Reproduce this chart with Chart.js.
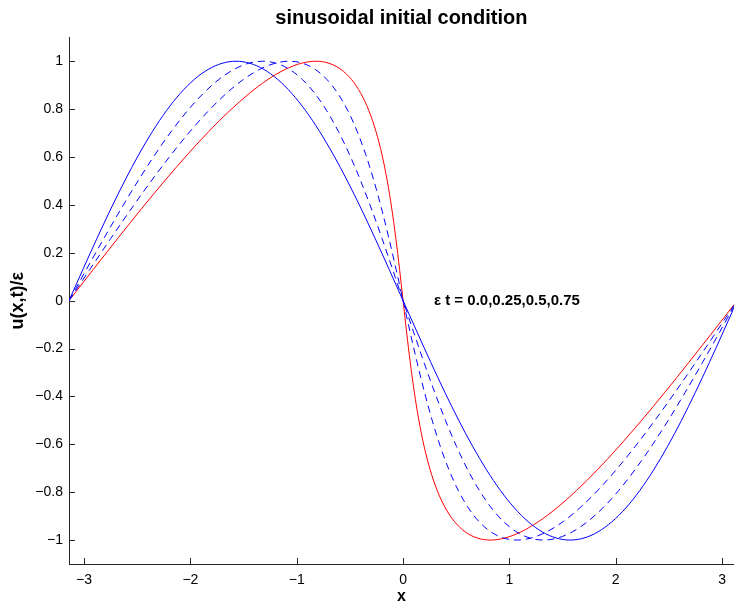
<!DOCTYPE html>
<html>
<head>
<meta charset="utf-8">
<title>sinusoidal initial condition</title>
<script src="https://cdn.jsdelivr.net/npm/chart.js@4.4.1/dist/chart.umd.min.js"></script>
<style>
	html, body { margin: 0; padding: 0; background: #fff; overflow: hidden; }
</style>
</head>
<body>
<canvas id="burgersChart" width="734" height="605"></canvas>
<script>
// values: u/eps along the curves, one x list per time
var uValues = [0, 0.1305, 0.2588, 0.3827, 0.5, 0.6088, 0.7071, 0.7934, 0.8660, 0.9239, 0.9659, 0.9914, 1,
	0.9914, 0.9659, 0.9239, 0.8660, 0.7934, 0.7071, 0.6088, 0.5, 0.3827, 0.2588, 0.1305, 0,
	-0.1305, -0.2588, -0.3827, -0.5, -0.6088, -0.7071, -0.7934, -0.8660, -0.9239, -0.9659, -0.9914, -1,
	-0.9914, -0.9659, -0.9239, -0.8660, -0.7934, -0.7071, -0.6088, -0.5, -0.3827, -0.2588, -0.1305, 0];

var xT0 = [-3.1416, -3.0107, -2.8798, -2.7489, -2.6180, -2.4871, -2.3562, -2.2253, -2.0944, -1.9635, -1.8326, -1.7017, -1.5708,
	-1.4399, -1.3090, -1.1781, -1.0472, -0.9163, -0.7854, -0.6545, -0.5236, -0.3927, -0.2618, -0.1309, 0,
	0.1309, 0.2618, 0.3927, 0.5236, 0.6545, 0.7854, 0.9163, 1.0472, 1.1781, 1.3090, 1.4399, 1.5708,
	1.7017, 1.8326, 1.9635, 2.0944, 2.2253, 2.3562, 2.4871, 2.6180, 2.7489, 2.8798, 3.0107, 3.1416];

var xT025 = [-3.1416, -2.9781, -2.8151, -2.6532, -2.4930, -2.3349, -2.1794, -2.0270, -1.8779, -1.7325, -1.5911, -1.4538, -1.3208,
	-1.1920, -1.0675, -0.9471, -0.8307, -0.7180, -0.6086, -0.5023, -0.3986, -0.2970, -0.1971, -0.0983, 0,
	0.0983, 0.1971, 0.2970, 0.3986, 0.5023, 0.6086, 0.7180, 0.8307, 0.9471, 1.0675, 1.1920, 1.3208,
	1.4538, 1.5911, 1.7325, 1.8779, 2.0270, 2.1794, 2.3349, 2.4930, 2.6532, 2.8151, 2.9781, 3.1416];

var xT05 = [-3.1416, -2.9454, -2.7504, -2.5576, -2.3680, -2.1827, -2.0026, -1.8286, -1.6614, -1.5016, -1.3496, -1.2060, -1.0708,
	-0.9442, -0.8260, -0.7162, -0.6142, -0.5196, -0.4318, -0.3501, -0.2736, -0.2014, -0.1324, -0.0656, 0,
	0.0656, 0.1324, 0.2014, 0.2736, 0.3501, 0.4318, 0.5196, 0.6142, 0.7162, 0.8260, 0.9442, 1.0708,
	1.2060, 1.3496, 1.5016, 1.6614, 1.8286, 2.0026, 2.1827, 2.3680, 2.5576, 2.7504, 2.9454, 3.1416];

var xT075 = [-3.1416, -2.9128, -2.6857, -2.4619, -2.2430, -2.0305, -1.8259, -1.6303, -1.4449, -1.2706, -1.1082, -0.9581, -0.8208,
	-0.6963, -0.5846, -0.4852, -0.3977, -0.3213, -0.2551, -0.1979, -0.1486, -0.1057, -0.0677, -0.0330, 0,
	0.0330, 0.0677, 0.1057, 0.1486, 0.1979, 0.2551, 0.3213, 0.3977, 0.4852, 0.5846, 0.6963, 0.8208,
	0.9581, 1.1082, 1.2706, 1.4449, 1.6303, 1.8259, 2.0305, 2.2430, 2.4619, 2.6857, 2.9128, 3.1416];

var xTicks = [-3, -2, -1, 0, 1, 2, 3];
var yTicks = [-1, -0.8, -0.6, -0.4, -0.2, 0, 0.2, 0.4, 0.6, 0.8, 1];

var titleText = 'sinusoidal initial condition';
var xLabel = 'x';
var yLabel = 'u(x,t)/\u03b5';
var noteText = '\u03b5 t = 0.0,0.25,0.5,0.75';
var noteX = 0.29;
var noteY = 0;

var FONT = '"Liberation Sans", Arial, Helvetica, sans-serif';
var AXIS_COLOR = '#262626';
var TICK_LEN = 6;

function toPoints(xs) {
	var pts = [];
	xs.forEach(function(x, i) {
		pts.push({ x: x, y: uValues[i] });
	});
	return pts;
}

function makeDataset(xs, color, dashed) {
	return {
		data: toPoints(xs),
		borderColor: color,
		borderWidth: 1,
		borderDash: dashed ? [7, 5] : [],
		pointRadius: 0,
		fill: false,
		cubicInterpolationMode: 'monotone'
	};
}

function tickLabel(v) {
	return v < 0 ? '\u2212' + Math.abs(v) : String(v);
}

// matlab style ticks pointing into the axes
var innerTicks = {
	id: 'innerTicks',
	afterDraw: function(chart) {
		var ctx = chart.ctx;
		var area = chart.chartArea;
		var xs = chart.scales.x;
		var ys = chart.scales.y;
		ctx.save();
		ctx.strokeStyle = AXIS_COLOR;
		ctx.lineWidth = 1;
		ctx.beginPath();
		xTicks.forEach(function(v) {
			var px = Math.round(xs.getPixelForValue(v)) + 0.5;
			ctx.moveTo(px, area.bottom);
			ctx.lineTo(px, area.bottom - TICK_LEN);
		});
		yTicks.forEach(function(v) {
			var py = Math.round(ys.getPixelForValue(v)) + 0.5;
			ctx.moveTo(area.left, py);
			ctx.lineTo(area.left + TICK_LEN, py);
		});
		ctx.stroke();
		ctx.restore();
	}
};

var noteLabel = {
	id: 'noteLabel',
	afterDraw: function(chart) {
		var ctx = chart.ctx;
		ctx.save();
		ctx.font = 'bold 15px ' + FONT;
		ctx.fillStyle = '#000';
		ctx.textAlign = 'left';
		ctx.textBaseline = 'middle';
		ctx.fillText(noteText, chart.scales.x.getPixelForValue(noteX), chart.scales.y.getPixelForValue(noteY));
		ctx.restore();
	}
};

var ctx = document.getElementById('burgersChart');
var burgersChart = new Chart(ctx, {
	type: 'line',
	data: {
		datasets: [
			makeDataset(xT0, 'rgb(0,0,255)', false),
			makeDataset(xT025, 'rgb(0,0,255)', true),
			makeDataset(xT05, 'rgb(0,0,255)', true),
			makeDataset(xT075, 'rgb(255,0,0)', false)
		]
	},
	options: {
		responsive: false,
		animation: false,
		layout: { padding: 0 },
		plugins: {
			legend: { display: false },
			tooltip: { enabled: false },
			title: {
				display: true,
				text: titleText,
				fullSize: false,
				color: '#000',
				font: { family: FONT, size: 20, weight: 'bold', lineHeight: 1.15 },
				padding: { top: 7, bottom: 7.3 }
			}
		},
		scales: {
			x: {
				type: 'linear',
				min: -3.1416,
				max: 3.11,
				grid: { display: true, drawOnChartArea: false, drawTicks: false },
				border: { display: true, color: AXIS_COLOR, width: 1 },
				ticks: {
					padding: 8,
					color: '#000',
					autoSkip: false,
					maxRotation: 0,
					font: { family: FONT, size: 14 },
					callback: tickLabel
				},
				afterBuildTicks: function(scale) {
					scale.ticks = xTicks.map(function(v) { return { value: v }; });
				},
				afterFit: function(scale) {
					scale.height = 41;
				},
				title: {
					display: true,
					text: xLabel,
					color: '#000',
					font: { family: FONT, size: 16, weight: 'bold', lineHeight: 1 },
					padding: { top: 0, bottom: 0 }
				}
			},
			y: {
				min: -1.1,
				max: 1.1,
				grid: { display: true, drawOnChartArea: false, drawTicks: false },
				border: { display: true, color: AXIS_COLOR, width: 1 },
				ticks: {
					padding: 6,
					color: '#000',
					autoSkip: false,
					font: { family: FONT, size: 14 },
					callback: tickLabel
				},
				afterBuildTicks: function(scale) {
					scale.ticks = yTicks.map(function(v) { return { value: v }; });
				},
				afterFit: function(scale) {
					scale.width = 69;
				},
				title: {
					display: true,
					text: yLabel,
					color: '#000',
					font: { family: FONT, size: 18, weight: 'bold', lineHeight: 1 },
					padding: { top: 9, bottom: 0 }
				}
			}
		}
	},
	plugins: [innerTicks, noteLabel]
});
</script>
</body>
</html>
